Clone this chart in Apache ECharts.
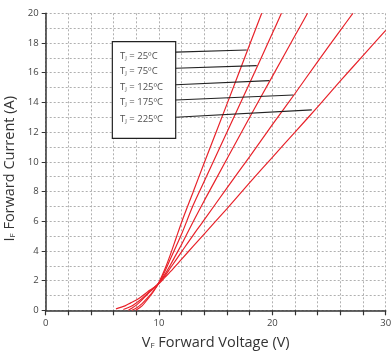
<!DOCTYPE html>
<html>
<head>
<meta charset="utf-8">
<script src="https://cdn.jsdelivr.net/npm/echarts@6/dist/echarts.min.js"></script>
<style>html,body{margin:0;padding:0;background:#fff}#c{width:391px;height:354px}</style>
</head>
<body>
<div id="c"></div>
<script>
// Temperatures (legend labels)
const temps = ['25ºC', '75ºC', '125ºC', '175ºC', '225ºC'];
// Curves: [V, I] pairs
const curve25 = [[7.95,0],[8.5,0.3],[9,0.75],[9.5,1.25],[10,1.9],[10.5,2.75],[11,3.75],[11.5,4.85],[12,5.95],[13,7.95],[14,9.95],[16,13.9],[18,17.9],[19.06,20]];
const curve75 = [[7.6,0],[8,0.15],[8.5,0.45],[9,0.85],[9.5,1.3],[10,1.85],[10.5,2.6],[11,3.45],[11.5,4.3],[12,5.15],[13,7.05],[14,8.7],[16,12.0],[18,15.3],[20,18.65],[20.8,20]];
const curve125 = [[7.3,0],[7.5,0.1],[8,0.35],[8.5,0.7],[9,1.1],[9.5,1.45],[10,1.85],[10.5,2.4],[11,3.05],[11.5,3.75],[12,4.45],[13,5.95],[14,7.4],[16,10.2],[18,13.0],[20,15.75],[22,18.5],[23.1,20]];
const curve175 = [[6.85,0.05],[7.5,0.25],[8,0.5],[8.5,0.8],[9,1.15],[9.5,1.5],[10,1.85],[10.5,2.3],[11,2.85],[12,3.95],[13,5.05],[14,6.1],[16,8.25],[18,10.35],[20,12.5],[22,14.6],[24,16.75],[26,18.85],[27.1,20]];
const curve225 = [[6.2,0.1],[7,0.3],[7.5,0.5],[8,0.7],[8.5,0.95],[9,1.25],[9.5,1.5],[10,1.8],[10.5,2.2],[11,2.6],[12,3.45],[13,4.3],[14,5.15],[16,6.85],[18,8.6],[20,10.3],[22,12.0],[24,13.7],[26,15.45],[28,17.15],[30,18.85]];
const curves = [curve25, curve75, curve125, curve175, curve225];
// Annotation: leader lines (start at box edge, end on curve)
const leaderStart = [[11.47,17.39],[11.47,16.3],[11.47,15.19],[11.47,14.16],[11.47,13.0]];
const leaderEnd = [[17.74,17.53],[18.62,16.47],[19.74,15.46],[21.85,14.5],[23.48,13.49]];
// Annotation text anchors and box corners
const labelAnchor = [[6.56,17.12],[6.56,16.07],[6.56,14.99],[6.56,13.98],[6.56,12.88]];
const boxCorners = [[5.88,18.09],[11.47,11.58]];
// Axis ticks
const xLabelValues = [0, 10, 20, 30];

const chart = echarts.init(document.getElementById('c'), null, {renderer: 'canvas'});
const FONT = 'Open Sans';
const grid = {type: [2, 2], color: '#b0b0b0', width: 1};
const series = [];
curves.forEach((c, i) => {
  series.push({
    type: 'line', data: c, showSymbol: false, smooth: 0.3,
    lineStyle: {color: '#e8232b', width: 1.2}, z: 3, silent: true
  });
});
leaderStart.forEach((s, i) => {
  series.push({
    type: 'line', data: [s, leaderEnd[i]], showSymbol: false,
    lineStyle: {color: '#222', width: 1.2}, z: 4, silent: true
  });
});
series.push({
  type: 'scatter', data: [], silent: true, z: 5,
  markArea: {
    silent: true,
    itemStyle: {color: '#fff', borderColor: '#222', borderWidth: 1.2, opacity: 1},
    data: [[{coord: boxCorners[0]}, {coord: boxCorners[1]}]]
  }
});
series.push({
  type: 'scatter', symbolSize: 0, z: 6, silent: true,
  data: labelAnchor.map((p, i) => ({value: p, t: temps[i]})),
  label: {
    show: true, position: 'right', distance: 0,
    formatter: p => '{m|T}{s|J}{m| = ' + p.data.t + '}',
    rich: {
      m: {fontFamily: FONT, fontSize: 9.5, color: '#222'},
      s: {fontFamily: FONT, fontSize: 6, color: '#222', padding: [4, 0, 0, 0]}
    }
  }
});

chart.setOption({
  animation: false,
  backgroundColor: '#fff',
  grid: {left: 45.7, right: 5.3, top: 13.3, bottom: 43.7, containLabel: false, outerBoundsMode: 'none'},
  xAxis: {
    type: 'value', min: 0, max: 30, interval: 2,
    name: '{m|V}{s|F}{m| Forward Voltage (V)}', nameLocation: 'middle', nameGap: 25,
    nameTextStyle: {rich: {
      m: {fontFamily: FONT, fontSize: 14.5, color: '#333'},
      s: {fontFamily: FONT, fontSize: 8, color: '#333', padding: [6, 0, 0, 0]}
    }},
    axisLine: {show: true, lineStyle: {color: '#333', width: 1.5}},
    axisTick: {show: true, inside: false, length: 5, lineStyle: {color: '#333', width: 1.2}},
    axisLabel: {fontFamily: FONT, fontSize: 9.5, color: '#444', margin: 8,
      formatter: v => xLabelValues.indexOf(v) >= 0 ? String(v) : ''},
    splitLine: {show: true, lineStyle: grid}
  },
  yAxis: {
    type: 'value', min: 0, max: 20, interval: 2,
    name: '{m|I}{s|F}{m| Forward Current (A)}', nameLocation: 'middle', nameGap: 26,
    nameTextStyle: {padding: [0, 14, 0, 0], rich: {
      m: {fontFamily: FONT, fontSize: 14.5, color: '#333'},
      s: {fontFamily: FONT, fontSize: 8, color: '#333', padding: [6, 0, 0, 0]}
    }},
    axisLine: {show: true, lineStyle: {color: '#333', width: 1.5}},
    axisTick: {show: true, inside: false, length: 4, lineStyle: {color: '#333', width: 1}},
    axisLabel: {fontFamily: FONT, fontSize: 9.5, color: '#444', margin: 7},
    splitLine: {show: true, lineStyle: grid},
    minorTick: {show: false, splitNumber: 2},
    minorSplitLine: {show: true, lineStyle: grid}
  },
  series: series
});
</script>
</body>
</html>
